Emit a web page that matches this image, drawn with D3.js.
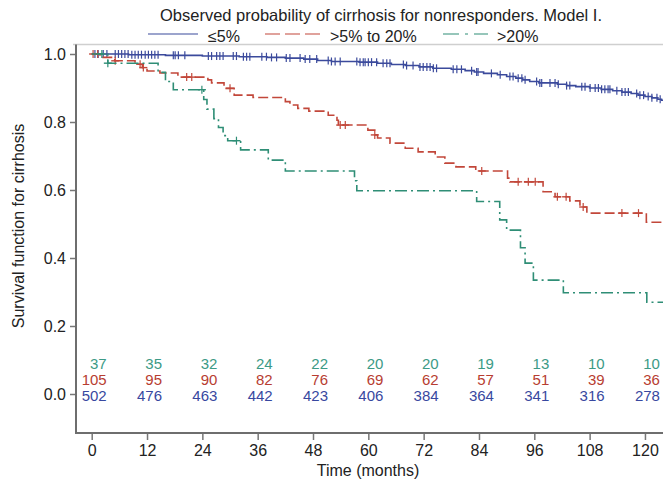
<!DOCTYPE html>
<html><head><meta charset="utf-8">
<script src="https://cdn.jsdelivr.net/npm/d3@7"></script>
<style>
body{margin:0;background:#fff}
svg{display:block}
text{font-family:"Liberation Sans",Arial,Helvetica,sans-serif;fill:#222}
</style>
</head><body>
<svg id="c" width="663" height="487"></svg>
<script>
// ---------- data ----------
const chartTitle = "Observed probability of cirrhosis for nonresponders. Model I.";
const seriesNames = ["\u22645%", ">5% to 20%", ">20%"];
const xTickValues = [0,12,24,36,48,60,72,84,96,108,120];
const yTickValues = [0,0.2,0.4,0.6,0.8,1.0];
const xLabel = "Time (months)";
const yLabel = "Survival function for cirrhosis";

// Kaplan-Meier steps (time of event, survival after event)
const lowTimes = [8,16,24,32,38,42,46,49,52,58,62,65,68,71,74,78,81,83,85,88,90,92,93.5,95,97,101,103,105,108,110.5,113,115,117,118.5,120,121.5,122.8,123.6];
const lowSurv  = [0.998,0.996,0.994,0.992,0.99,0.988,0.985,0.981,0.978,0.976,0.973,0.969,0.966,0.962,0.958,0.955,0.951,0.947,0.943,0.939,0.934,0.929,0.924,0.919,0.915,0.911,0.907,0.904,0.9,0.896,0.892,0.888,0.884,0.879,0.875,0.871,0.867,0.864];

const midTimes = [1.8,5,9.4,11,12,14.8,18.7,25.2,26,28.7,30.9,35,42,43,44.7,47.1,51.3,53.2,53.5,59.9,61.4,62,64.7,68,70.8,74.5,76.6,79,83.3,90.2,90.7,97.9,100.5,103.7,105.9,107.4,120.3];
const midSurv  = [0.99,0.98,0.97,0.96,0.95,0.944,0.932,0.924,0.915,0.899,0.879,0.872,0.86,0.85,0.84,0.832,0.82,0.805,0.791,0.776,0.762,0.753,0.738,0.723,0.712,0.697,0.679,0.668,0.656,0.635,0.624,0.595,0.58,0.568,0.55,0.532,0.505];

const highTimes = [3.5,14.4,16,17.7,24.3,25,26.5,27.5,28.5,29.5,32.3,38.3,42,57,57.5,83.5,88.5,90,93,94,95.8,102.3,120.4];
const highSurv  = [0.973,0.946,0.919,0.895,0.866,0.838,0.81,0.784,0.76,0.745,0.718,0.688,0.656,0.627,0.598,0.566,0.512,0.482,0.43,0.385,0.335,0.298,0.27];

// censoring times
const lowCensor = [0.7,1.4,2.5,3.3,5.1,5.8,6.5,7.2,7.9,8.7,9.4,10.1,10.8,11.6,12.3,13,13.7,14.4,17.7,18.1,18.8,20.2,25.3,26,27.1,27.8,28.5,30.7,31.4,32.9,33.6,34.3,36.9,37.9,39,40.1,42.2,43,45.2,46.3,47.3,48.8,51.3,52,52.8,53.9,57.5,58.2,58.9,59.3,60,60.7,61.8,63.2,64,64.7,67.6,68.3,69.7,71.2,71.9,72.7,73.4,74.1,74.8,78.4,79.2,80.2,82.4,83.5,83.8,86.7,88.6,90.7,91.4,92.5,93.3,94,96.5,97.2,97.6,99.4,100.5,101.2,103,103.7,106.3,107,108.1,109.2,109.9,110.6,111.3,112,112.4,113.9,115,115.7,116.4,118.2,118.9,119.7,120.7,121.5,122.6,123.3];
const midCensor = [0.3,1.3,5.1,10.5,11.2,20.6,21.7,30,53.9,55,61.4,84.6,92.5,94.7,96.2,101,102.9,106.6,115,118.6];
const highCensor = [2.2,3.5,23.9,31.4];

// numbers at risk
const riskTimes = [0,12,24,36,48,60,72,84,96,108,120];
const riskHigh = [37,35,32,24,22,20,20,19,13,10,10];
const riskMid  = [105,95,90,82,76,69,62,57,51,39,36];
const riskLow  = [502,476,463,442,423,406,384,364,341,316,278];

// ---------- drawing ----------
const colors = {low:"#3b4a9c", mid:"#c2473a", high:"#2f8e76"};
const numColors = {low:"#3848a0", mid:"#b73d31", high:"#3c9a86"};
const svg = d3.select("#c");
const tMax = 124;
const x = d3.scaleLinear().domain([0, tMax]).range([91.7, 663.4]);
const y = d3.scaleLinear().domain([0, 1]).range([394, 54]);
const frameLeft = 76, frameTop = 44.5, frameBottom = 433, frameRight = 663;

// frame top light line
svg.append("line").attr("x1", frameLeft-3).attr("x2", frameRight).attr("y1", frameTop).attr("y2", frameTop)
  .attr("stroke", "#cfcfcf").attr("stroke-width", 1.5);

// y axis
const yAxis = d3.axisLeft(y).tickValues(yTickValues).tickFormat(d3.format(".1f")).tickSize(6).tickPadding(4);
const gy = svg.append("g").attr("transform", `translate(${frameLeft},0)`).call(yAxis);
gy.select(".domain").remove();
gy.selectAll(".tick line").attr("stroke", "#777").attr("stroke-width", 1.5);
gy.selectAll(".tick text").attr("font-size", 16).attr("fill", "#222").style("font-family", '"Liberation Sans",Arial,sans-serif');
svg.append("line").attr("x1", frameLeft).attr("x2", frameLeft).attr("y1", frameTop).attr("y2", frameBottom)
  .attr("stroke", "#6e6e6e").attr("stroke-width", 2);

// x axis
const xAxis = d3.axisBottom(x).tickValues(xTickValues).tickFormat(d3.format("d")).tickSize(7).tickPadding(5);
const gx = svg.append("g").attr("transform", `translate(0,${frameBottom})`).call(xAxis);
gx.select(".domain").remove();
gx.selectAll(".tick line").attr("stroke", "#777").attr("stroke-width", 1.5);
gx.selectAll(".tick text").attr("font-size", 16).attr("fill", "#222").style("font-family", '"Liberation Sans",Arial,sans-serif');
svg.append("line").attr("x1", frameLeft-1).attr("x2", frameRight).attr("y1", frameBottom).attr("y2", frameBottom)
  .attr("stroke", "#6e6e6e").attr("stroke-width", 2);

// axis titles
svg.append("text").attr("x", 368).attr("y", 476).attr("text-anchor", "middle").attr("font-size", 16).text(xLabel);
svg.append("text").attr("transform", "translate(24,226) rotate(-90)").attr("text-anchor", "middle").attr("font-size", 16).text(yLabel);

// title
svg.append("text").attr("x", 381).attr("y", 21).attr("text-anchor", "middle").attr("font-size", 16.5).text(chartTitle);

// curves
function stepPoints(times, surv) {
  const pts = [[0, 1]];
  times.forEach((t, i) => pts.push([t, surv[i]]));
  pts.push([tMax, surv[surv.length - 1]]);
  return pts;
}
function survAt(times, surv, t) {
  let v = 1;
  for (let i = 0; i < times.length; i++) { if (times[i] <= t) v = surv[i]; }
  return v;
}
const line = d3.line().x(d => x(d[0])).y(d => y(d[1])).curve(d3.curveStepAfter);
const series = [
  {key:"low", times:lowTimes, surv:lowSurv, cens:lowCensor, dash:null, cross:false},
  {key:"mid", times:midTimes, surv:midSurv, cens:midCensor, dash:"10,4", cross:true},
  {key:"high", times:highTimes, surv:highSurv, cens:highCensor, dash:"12,4,2,4", cross:true}
];
const plot = svg.append("g");
series.forEach(s => {
  plot.append("path").datum(stepPoints(s.times, s.surv)).attr("d", line)
    .attr("fill", "none").attr("stroke", colors[s.key]).attr("stroke-width", 1.6)
    .attr("stroke-dasharray", s.dash);
  const g = plot.append("g");
  s.cens.forEach(t => {
    const cx = x(t), cy = y(survAt(s.times, s.surv, t));
    g.append("line").attr("x1", cx).attr("x2", cx).attr("y1", cy - 4).attr("y2", cy + 4)
      .attr("stroke", colors[s.key]).attr("stroke-width", 1.2);
    if (s.cross) g.append("line").attr("x1", cx - 4).attr("x2", cx + 4).attr("y1", cy).attr("y2", cy)
      .attr("stroke", colors[s.key]).attr("stroke-width", 1.4);
  });
});

// numbers at risk
const riskRows = [
  {vals:riskHigh, key:"high", yv:368.5},
  {vals:riskMid, key:"mid", yv:384.5},
  {vals:riskLow, key:"low", yv:401}
];
riskRows.forEach(r => {
  svg.append("g").selectAll("text").data(r.vals).join("text")
    .attr("x", (d, i) => x(riskTimes[i]) + 15).attr("y", r.yv)
    .attr("text-anchor", "end").attr("font-size", 15).attr("fill", numColors[r.key])
    .style("fill", numColors[r.key]).text(d => d);
});

// legend
const legendItems = [
  {key:"low", x1:148, x2:198, tx:208, dash:null},
  {key:"mid", x1:265, x2:320, tx:330, dash:"15,5"},
  {key:"high", x1:443, x2:488, tx:497, dash:"16,6,3,6"}
];
legendItems.forEach((l, i) => {
  svg.append("line").attr("x1", l.x1).attr("x2", l.x2).attr("y1", 34).attr("y2", 34)
    .attr("stroke", colors[l.key]).attr("stroke-width", 1.2).attr("stroke-dasharray", l.dash);
  svg.append("text").attr("x", l.tx).attr("y", 41.5).attr("font-size", 16).text(seriesNames[i]);
});
</script>
</body></html>
